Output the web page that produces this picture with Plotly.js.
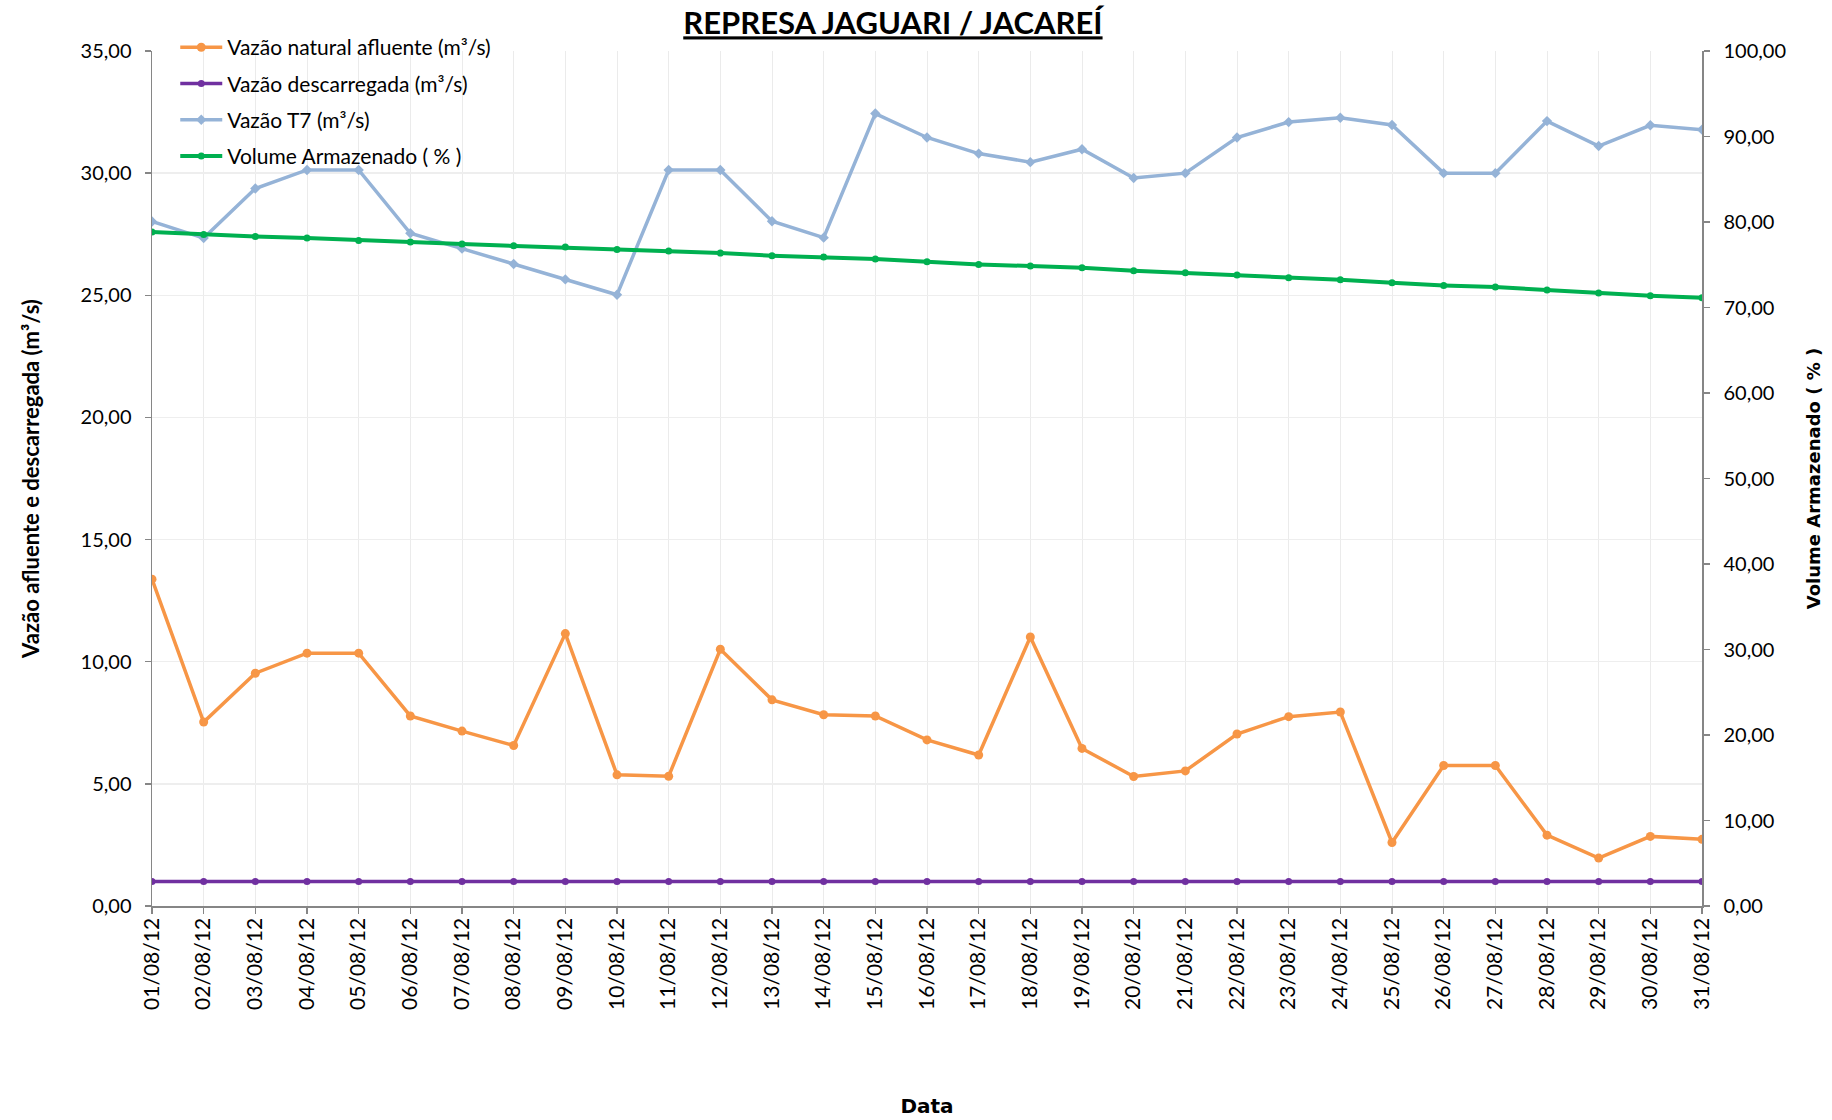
<!DOCTYPE html>
<html>
<head>
<meta charset="utf-8">
<script src="https://cdn.plot.ly/plotly-3.0.1.min.js"></script>
<style>
html, body { margin: 0; padding: 0; background: #fff; }
#chart { width: 1832px; height: 1120px; }
</style>
</head>
<body>
<div id="chart"></div>
<script>
const datas = ['01/08/12','02/08/12','03/08/12','04/08/12','05/08/12','06/08/12','07/08/12','08/08/12','09/08/12','10/08/12',
  '11/08/12','12/08/12','13/08/12','14/08/12','15/08/12','16/08/12','17/08/12','18/08/12','19/08/12','20/08/12',
  '21/08/12','22/08/12','23/08/12','24/08/12','25/08/12','26/08/12','27/08/12','28/08/12','29/08/12','30/08/12','31/08/12'];

const vazaoNatural = [13.38, 7.53, 9.53, 10.35, 10.35, 7.78, 7.16, 6.57, 11.15, 5.37,
  5.31, 10.51, 8.44, 7.83, 7.78, 6.80, 6.18, 11.01, 6.45, 5.30,
  5.53, 7.04, 7.75, 7.94, 2.60, 5.75, 5.75, 2.90, 1.96, 2.85, 2.73];

const vazaoDescarregada = [1.00, 1.00, 1.00, 1.00, 1.00, 1.00, 1.00, 1.00, 1.00, 1.00,
  1.00, 1.00, 1.00, 1.00, 1.00, 1.00, 1.00, 1.00, 1.00, 1.00,
  1.00, 1.00, 1.00, 1.00, 1.00, 1.00, 1.00, 1.00, 1.00, 1.00, 1.00];

const vazaoT7 = [28.02, 27.34, 29.37, 30.13, 30.13, 27.54, 26.91, 26.28, 25.65, 25.02,
  30.13, 30.13, 28.03, 27.36, 32.44, 31.46, 30.80, 30.45, 30.98, 29.80,
  30.00, 31.46, 32.09, 32.27, 31.97, 30.00, 30.00, 32.13, 31.11, 31.96, 31.78];

const volumeArmazenado = [78.83, 78.55, 78.31, 78.13, 77.85, 77.66, 77.42, 77.22, 77.07, 76.79,
  76.60, 76.37, 76.05, 75.90, 75.67, 75.35, 75.04, 74.85, 74.65, 74.30,
  74.06, 73.79, 73.48, 73.24, 72.89, 72.58, 72.39, 72.04, 71.69, 71.37, 71.14];

const seriesNames = ['Vazão natural afluente (m³/s)', 'Vazão descarregada (m³/s)', 'Vazão T7 (m³/s)', 'Volume Armazenado ( % )'];
const chartTitle = 'REPRESA JAGUARI / JACAREÍ';
const xTitle = 'Data';
const yTitle = 'Vazão afluente e descarregada (m³/s)';
const y2Title = 'Volume Armazenado ( % )';

const traces = [
  { x: datas, y: vazaoNatural, name: seriesNames[0], legendgroup: 'g1', type: 'scatter', mode: 'lines+markers',
    line: { color: '#F79646', width: 3.5 }, marker: { color: '#F79646', size: 9, symbol: 'circle' } },
  { x: datas, y: vazaoDescarregada, name: seriesNames[1], legendgroup: 'g2', type: 'scatter', mode: 'lines+markers',
    line: { color: '#7030A0', width: 3.5 }, marker: { color: '#7030A0', size: 7, symbol: 'circle' } },
  { x: datas, y: vazaoT7, name: seriesNames[2], legendgroup: 'g3', type: 'scatter', mode: 'lines+markers',
    line: { color: '#95B3D7', width: 3.5 }, marker: { color: '#95B3D7', size: 8, symbol: 'diamond' } },
  { x: datas, y: volumeArmazenado, name: seriesNames[3], legendgroup: 'g4', type: 'scatter', mode: 'lines+markers', yaxis: 'y2',
    line: { color: '#00B050', width: 4 }, marker: { color: '#00B050', size: 7, symbol: 'circle' } }
];

const layout = {
  width: 1832, height: 1120,
  paper_bgcolor: '#ffffff', plot_bgcolor: '#ffffff',
  separators: ',.',
  margin: { l: 152, r: 130, t: 51, b: 214, pad: 0 },
  font: { family: 'Lato, sans-serif', size: 20, color: '#000000' },
  title: {
    text: '<u><b>' + chartTitle + '</b></u>',
    font: { family: 'Lato, sans-serif', size: 31, color: '#000000' },
    x: 0.4874, xref: 'container', xanchor: 'center',
    y: 0.979, yref: 'container', yanchor: 'middle'
  },
  showlegend: true,
  legend: {
    x: 0.015, xanchor: 'left', y: 1.028, yanchor: 'top',
    bgcolor: 'rgba(0,0,0,0)', borderwidth: 0,
    font: { family: 'Lato, sans-serif', size: 21, color: '#000000' },
    traceorder: 'grouped', tracegroupgap: 6, itemwidth: 42
  },
  xaxis: {
    type: 'category', range: [0, 30],
    showgrid: true, gridcolor: '#EBEBEB', gridwidth: 1,
    showline: true, linecolor: '#868686', linewidth: 1.5,
    ticks: 'outside', ticklen: 6, tickcolor: '#868686', tickwidth: 1.5,
    ticklabelstandoff: -4,
    tickangle: -90, tickfont: { family: 'Lato, sans-serif', size: 21, color: '#000000' },
    zeroline: false, automargin: false,
    title: { text: xTitle, font: { family: 'DejaVu Sans, sans-serif', size: 20, color: '#000000', weight: 'bold' }, standoff: 90 }
  },
  yaxis: {
    range: [0, 35], dtick: 5, tick0: 0, tickformat: '.2f',
    showgrid: true, gridcolor: '#EEEEEE', gridwidth: 1.5,
    showline: true, linecolor: '#868686', linewidth: 1.5,
    ticks: 'outside', ticklen: 6, tickcolor: '#868686', tickwidth: 1.5,
    ticklabelstandoff: 9,
    tickfont: { family: 'Lato, sans-serif', size: 20, color: '#000000' },
    zeroline: false, automargin: false,
    title: { text: yTitle, font: { family: 'Lato, sans-serif', size: 22, color: '#000000', weight: 'bold' }, standoff: 35 }
  },
  yaxis2: {
    overlaying: 'y', side: 'right',
    range: [0, 100], dtick: 10, tick0: 0, tickformat: '.2f',
    showgrid: false,
    showline: true, linecolor: '#868686', linewidth: 1.5,
    ticks: 'outside', ticklen: 6, tickcolor: '#868686', tickwidth: 1.5,
    ticklabelstandoff: 10,
    tickfont: { family: 'Lato, sans-serif', size: 20, color: '#000000' },
    zeroline: false, automargin: false,
    title: { text: y2Title, font: { family: 'DejaVu Sans, sans-serif', size: 18, color: '#000000', weight: 'bold' }, standoff: 22 }
  }
};

Plotly.newPlot('chart', traces, layout, { displayModeBar: false, staticPlot: true });
</script>
</body>
</html>
